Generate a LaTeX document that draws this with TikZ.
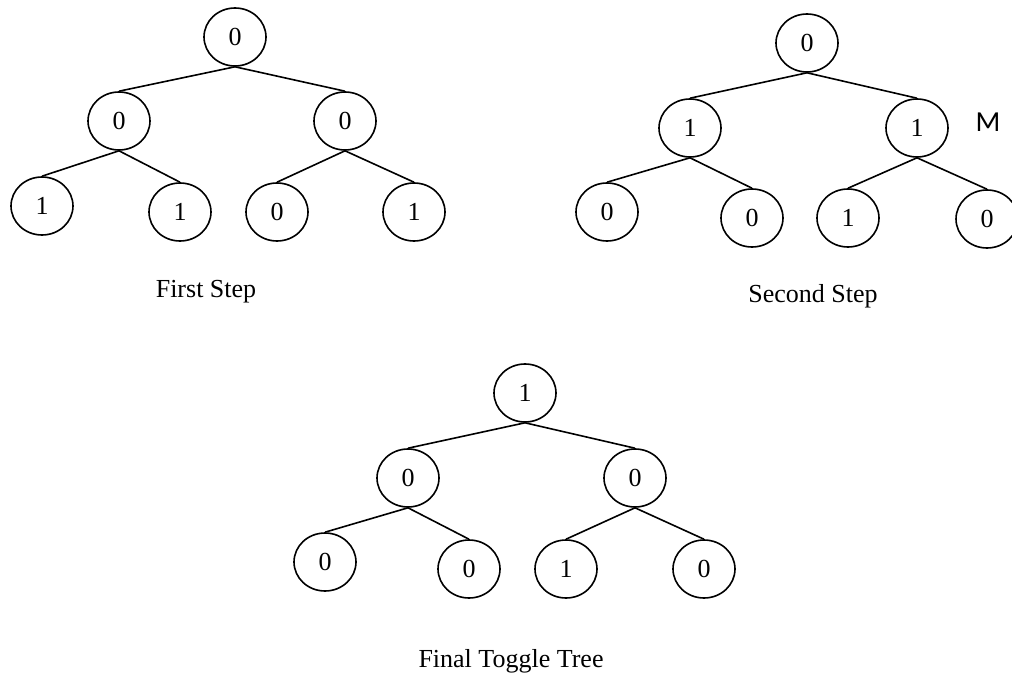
\documentclass[tikz,border=0pt]{standalone}
\usepackage{fontspec}
\setmainfont{Liberation Serif}
\newfontfamily\msans{Carlito}
\usetikzlibrary{shapes.geometric}
\begin{document}
\begin{tikzpicture}[x=1pt,y=-1pt,
  tnode/.style={draw,ellipse,line width=1.6pt,minimum width=62pt,minimum height=58pt,inner sep=0pt,font=\fontsize{26}{30}\selectfont},
  edge/.style={line width=1.6pt},
  caption/.style={anchor=base,font=\fontsize{26}{30}\selectfont}]
\useasboundingbox (0,0) rectangle (1012,674);
% Tree 1
\node[tnode] (a0) at (235,37) {0};
\node[tnode] (a1) at (119,121) {0};
\node[tnode] (a2) at (345,121) {0};
\node[tnode] (a3) at (42,206) {1};
\node[tnode] (a4) at (180,212) {1};
\node[tnode] (a5) at (277,212) {0};
\node[tnode] (a6) at (414,212) {1};
\draw[edge] (a0.south) -- (a1.north);
\draw[edge] (a0.south) -- (a2.north);
\draw[edge] (a1.south) -- (a3.north);
\draw[edge] (a1.south) -- (a4.north);
\draw[edge] (a2.south) -- (a5.north);
\draw[edge] (a2.south) -- (a6.north);
\node[caption] (ca) at (206,297) {First Step};
% Tree 2
\node[tnode] (b0) at (807,43) {0};
\node[tnode] (b1) at (690,128) {1};
\node[tnode] (b2) at (917,128) {1};
\node[tnode] (b3) at (607,212) {0};
\node[tnode] (b4) at (752,218) {0};
\node[tnode] (b5) at (848,218) {1};
\node[tnode] (b6) at (987,219) {0};
\draw[edge] (b0.south) -- (b1.north);
\draw[edge] (b0.south) -- (b2.north);
\draw[edge] (b1.south) -- (b3.north);
\draw[edge] (b1.south) -- (b4.north);
\draw[edge] (b2.south) -- (b5.north);
\draw[edge] (b2.south) -- (b6.north);
\node[font=\msans\fontsize{29}{32}\selectfont] (m) at (988,122) {M};
\node[caption] (cb) at (813,302) {Second Step};
% Tree 3
\node[tnode] (c0) at (525,393) {1};
\node[tnode] (c1) at (408,478) {0};
\node[tnode] (c2) at (635,478) {0};
\node[tnode] (c3) at (325,562) {0};
\node[tnode] (c4) at (469,569) {0};
\node[tnode] (c5) at (566,569) {1};
\node[tnode] (c6) at (704,569) {0};
\draw[edge] (c0.south) -- (c1.north);
\draw[edge] (c0.south) -- (c2.north);
\draw[edge] (c1.south) -- (c3.north);
\draw[edge] (c1.south) -- (c4.north);
\draw[edge] (c2.south) -- (c5.north);
\draw[edge] (c2.south) -- (c6.north);
\node[caption] (cc) at (511,667) {Final Toggle Tree};
\end{tikzpicture}
\end{document}
